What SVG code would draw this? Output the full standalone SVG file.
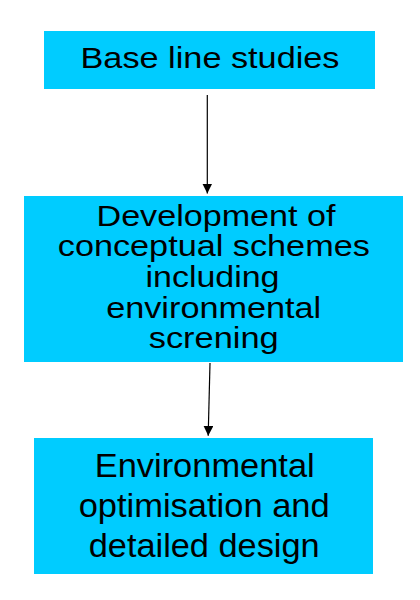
<svg xmlns="http://www.w3.org/2000/svg" width="420" height="600" viewBox="0 0 420 600">
<style>
.box{fill:#00CCFF;}
.t{font-family:"Liberation Sans",Arial,sans-serif;fill:#000;text-anchor:middle;}
.c{stroke:#000;stroke-width:1.2;fill:none;}
</style>
<defs>
<marker id="ah" viewBox="0 0 10 10" refX="10" refY="5" markerWidth="10" markerHeight="10" markerUnits="userSpaceOnUse" orient="auto">
<path d="M0,0 L10,5 L0,10 Z" fill="#000"/>
</marker>
</defs>
<rect width="420" height="600" fill="#fff"/>
<g id="n1">
<rect class="box" x="44" y="31" width="331" height="58"/>
<text class="t" x="210" y="68.3" font-size="29.5" textLength="259" lengthAdjust="spacingAndGlyphs">Base line studies</text>
</g>
<g id="n2">
<rect class="box" x="24" y="196" width="379" height="166"/>
<text class="t" font-size="29">
<tspan x="216" y="225.7" textLength="239" lengthAdjust="spacingAndGlyphs">Development of</tspan>
</text>
<text class="t" x="213.8" y="256.3" font-size="29" textLength="312" lengthAdjust="spacingAndGlyphs">conceptual schemes</text>
<text class="t" x="212.5" y="286.9" font-size="29" textLength="134" lengthAdjust="spacingAndGlyphs">including</text>
<text class="t" x="213.7" y="317.5" font-size="29" textLength="215" lengthAdjust="spacingAndGlyphs">environmental</text>
<text class="t" x="213.7" y="348.1" font-size="29" textLength="130" lengthAdjust="spacingAndGlyphs">screning</text>
</g>
<g id="n3">
<rect class="box" x="34" y="438" width="339" height="136"/>
<text class="t" x="204.7" y="476.7" font-size="32.5" textLength="220" lengthAdjust="spacingAndGlyphs">Environmental</text>
<text class="t" x="204.2" y="516.7" font-size="32.5" textLength="251" lengthAdjust="spacingAndGlyphs">optimisation and</text>
<text class="t" x="204.2" y="556.7" font-size="32.5" textLength="231" lengthAdjust="spacingAndGlyphs">detailed design</text>
</g>
<g id="connectors">
<line class="c" x1="207.3" y1="95" x2="207.3" y2="193.5" marker-end="url(#ah)"/>
<line class="c" x1="210" y1="363" x2="208.2" y2="435.7" marker-end="url(#ah)"/>
</g>
</svg>
